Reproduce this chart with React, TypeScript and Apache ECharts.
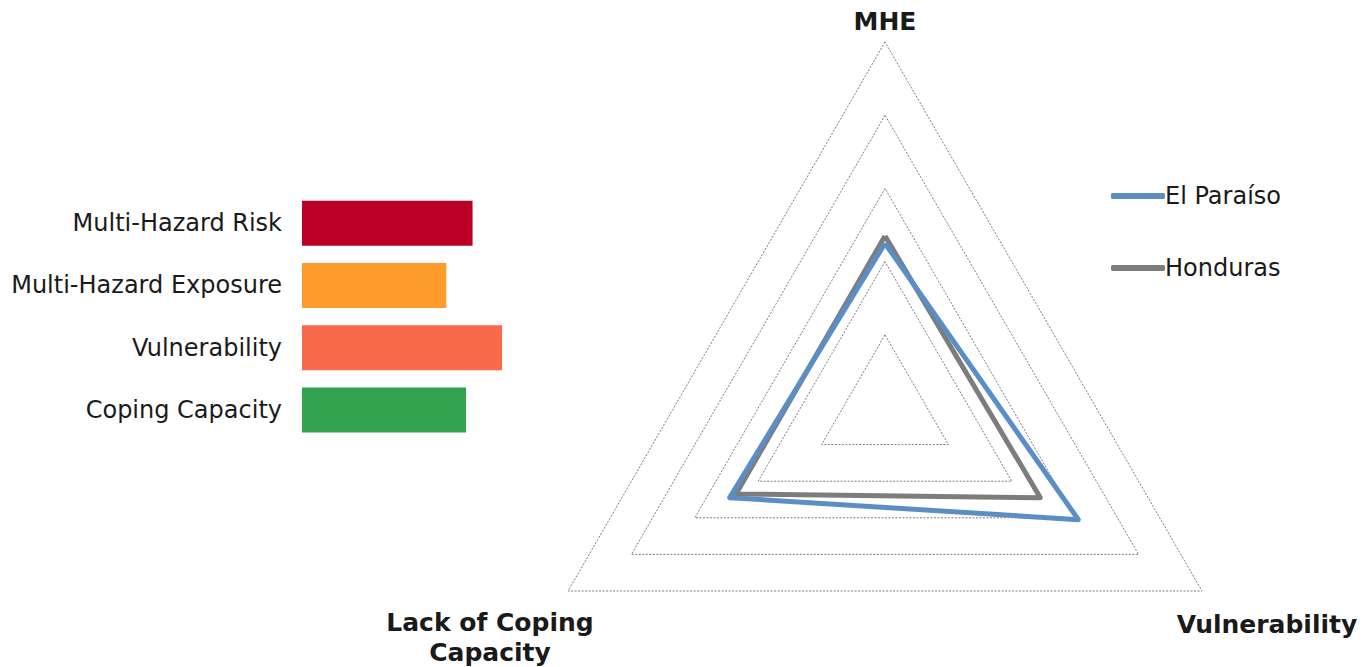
import React, { useEffect, useRef } from "react";
import * as echarts from "echarts";

const barCategories = ["Multi-Hazard Risk", "Multi-Hazard Exposure", "Vulnerability", "Coping Capacity"];
const barValues = [5.2, 4.4, 6.1, 5.0];
const barColors = ["#bb0026", "#fd9c2c", "#f96a4b", "#33a351"];

const indicatorNames = ["MHE", "Lack of Coping\nCapacity", "Vulnerability"];
const indicatorMax = [10, 10, 10];
const seriesNames = ["El Paraíso", "Honduras"];
const elParaiso = [4.5, 4.9, 6.1];
const honduras = [4.7, 4.7, 4.9];
const seriesColors = ["#5b8ec4", "#7d7d7d"];

const FONT = "DejaVu Sans, Verdana, sans-serif";

export default function App() {
  const ref = useRef<HTMLDivElement>(null);
  useEffect(() => {
    if (!ref.current) return;
    const chart = echarts.init(ref.current, undefined, { renderer: "svg" });
    const cx = 885;
    const cy = 408;
    const r = 366;
    chart.setOption({
      animation: false,
      backgroundColor: "#ffffff",
      textStyle: { fontFamily: FONT },
      grid: { left: 302, top: 192, width: 328, height: 249, containLabel: false },
      xAxis: { type: "value", min: 0, max: 10, show: false },
      yAxis: {
        type: "category",
        inverse: true,
        data: barCategories,
        axisLine: { show: false },
        axisTick: { show: false },
        splitLine: { show: false },
        axisLabel: { fontSize: 24, color: "#1a1a1a", margin: 20, fontFamily: FONT },
      },
      legend: {
        orient: "vertical",
        left: 1106,
        top: 179,
        itemWidth: 54,
        itemHeight: 6,
        itemGap: 48,
        data: seriesNames,
        textStyle: { fontSize: 24, color: "#1a1a1a", lineHeight: 24, fontFamily: FONT, padding: [0, 0, 0, -5] },
      },
      radar: {
        center: [cx, cy],
        radius: r,
        startAngle: 90,
        shape: "polygon",
        splitNumber: 5,
        indicator: indicatorNames.map((n, i) => ({ name: n, max: indicatorMax[i], min: 0 })),
        axisName: { show: false },
        axisLine: { show: false },
        axisTick: { show: false },
        axisLabel: { show: false },
        splitArea: { show: false },
        splitLine: { lineStyle: { color: "#7a7a7a", type: [2, 1.5], width: 1 } },
      },
      series: [
        {
          type: "bar",
          data: barValues.map((v, i) => ({ value: v, itemStyle: { color: barColors[i] } })),
          barWidth: 45,
          silent: true,
        },
        {
          type: "radar",
          name: seriesNames[1],
          symbol: "none",
          color: seriesColors[1],
          lineStyle: { color: seriesColors[1], width: 5 },
          data: [{ name: seriesNames[1], value: honduras }],
        },
        {
          type: "radar",
          name: seriesNames[0],
          symbol: "none",
          color: seriesColors[0],
          lineStyle: { color: seriesColors[0], width: 5 },
          data: [{ name: seriesNames[0], value: elParaiso }],
        },
      ],
      graphic: [
        {
          type: "text",
          x: cx,
          y: 21,
          style: { text: indicatorNames[0], font: `bold 25px ${FONT}`, fill: "#1a1a1a", align: "center", verticalAlign: "middle" },
        },
        {
          type: "text",
          x: 490,
          y: 637,
          style: { text: indicatorNames[1], font: `bold 25px ${FONT}`, fill: "#1a1a1a", align: "center", verticalAlign: "middle", lineHeight: 30 },
        },
        {
          type: "text",
          x: 1267,
          y: 624,
          style: { text: indicatorNames[2], font: `bold 25px ${FONT}`, fill: "#1a1a1a", align: "center", verticalAlign: "middle" },
        },
      ],
    });
    return () => chart.dispose();
  }, []);
  return <div ref={ref} style={{ position: "fixed", left: 0, top: 0, width: 1370, height: 667 }} />;
}
